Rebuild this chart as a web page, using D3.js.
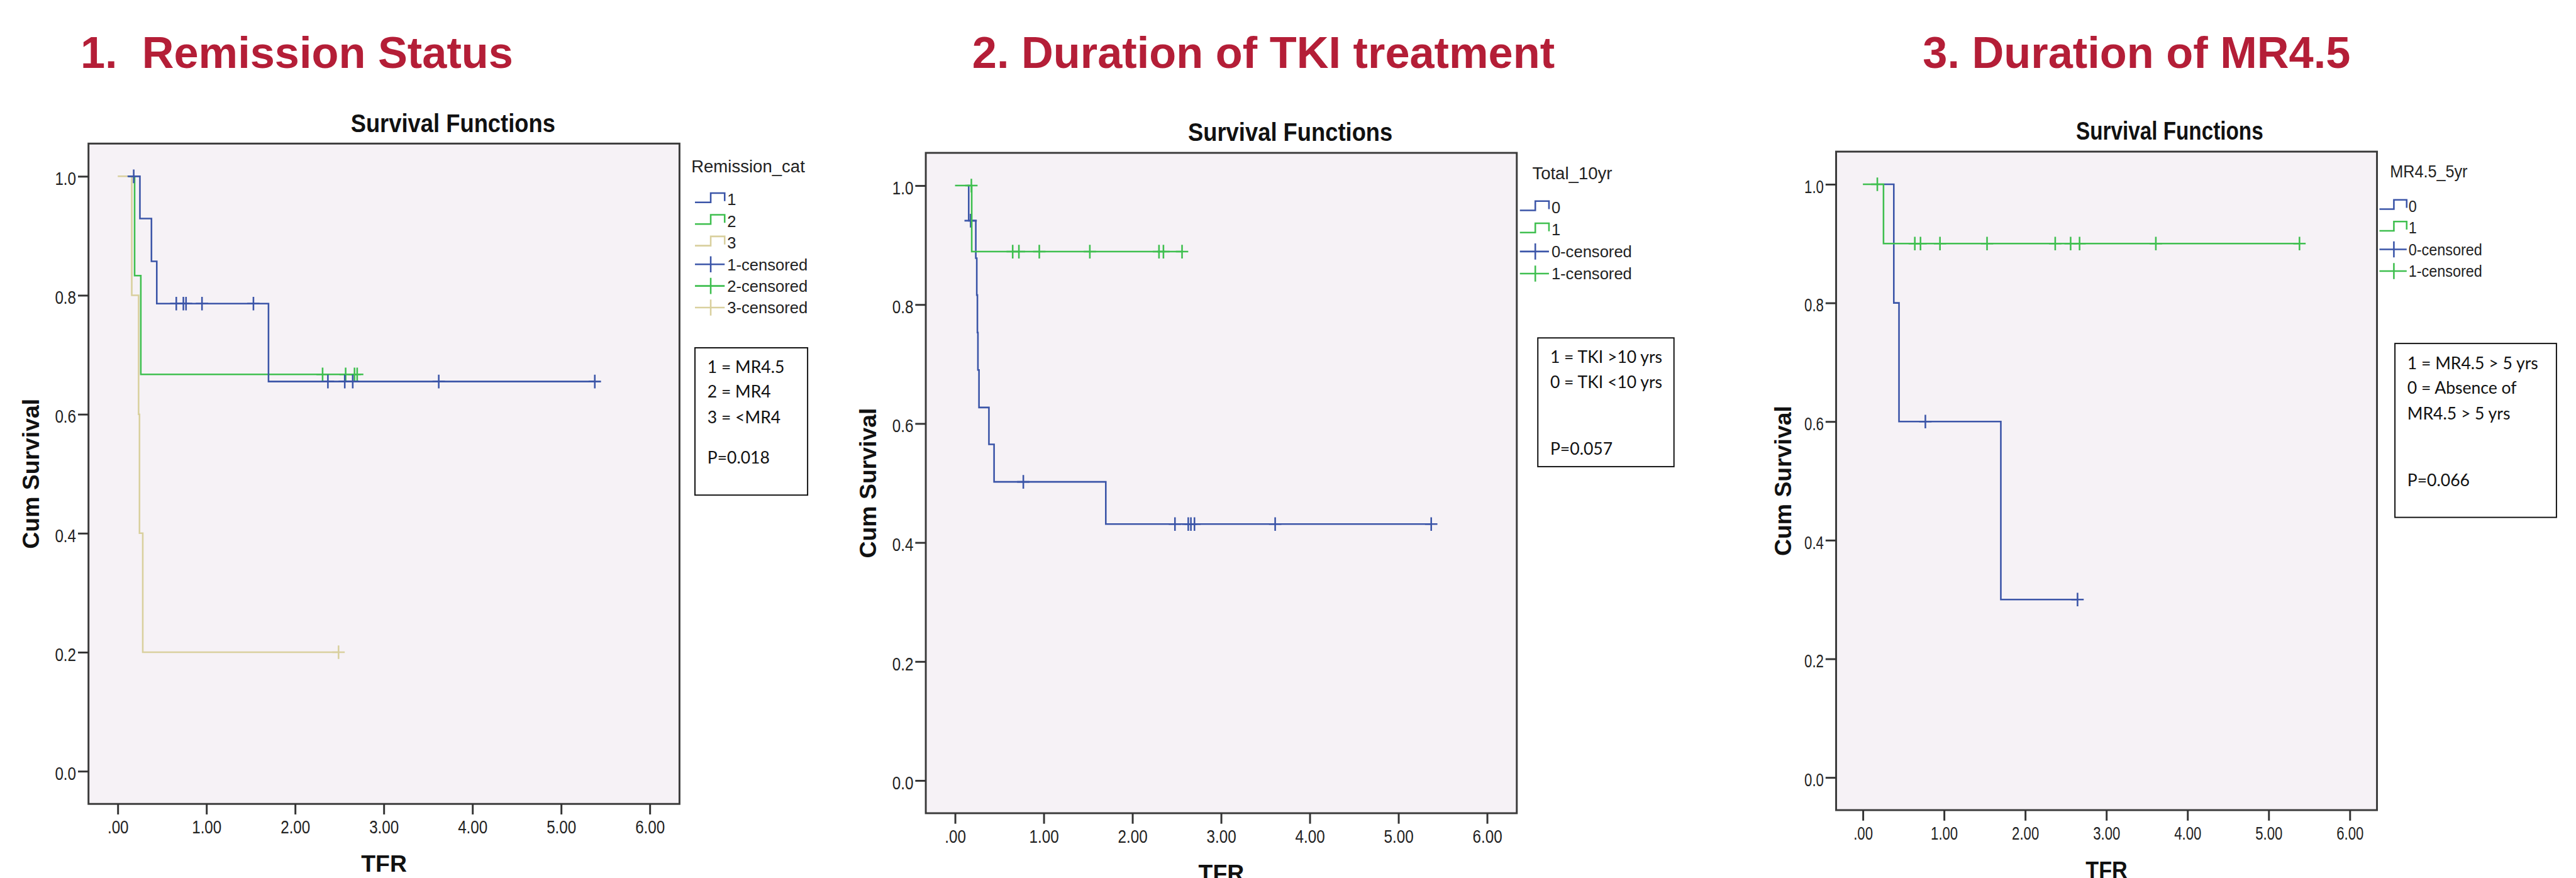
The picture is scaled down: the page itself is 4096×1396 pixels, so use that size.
<!DOCTYPE html>
<html lang="en">
<head>
<meta charset="utf-8" />
<title>TFR - Survival Functions</title>
<script src="https://cdnjs.cloudflare.com/ajax/libs/d3/7.8.5/d3.min.js"></script>
<style>
  body { margin: 0; background: #fff; }
  text { font-family: "Liberation Sans", Arial, sans-serif; }
  .title { font-weight: bold; font-size: 71.5px; fill: #b41e37; white-space: pre; }
  .subtitle { font-weight: bold; font-size: 42px; fill: #111; }
  .tick text { font-size: 30px; fill: #222; }
  .tick line { stroke: #333; stroke-width: 3; }
  .axis-label { font-weight: bold; font-size: 38px; fill: #111; }
  .legend text { font-size: 26px; fill: #222; }
  .legend text.head { font-size: 28px; }
  .note rect { fill: #fff; stroke: #111; stroke-width: 2; }
  .note text { font-family: Lato, "Open Sans", sans-serif; font-size: 27px; fill: #111; }
  .frame { fill: #f6f2f6; stroke: #3a3a3a; stroke-width: 3; }
  .km { fill: none; stroke-width: 2.6; }
  .cens { fill: none; stroke-width: 2.6; }
</style>
</head>
<body>
<div id="chart"></div>
<script>
  // ---- data ----
  const titles = ["1.  Remission Status", "2. Duration of TKI treatment", "3. Duration of MR4.5"];
  const subtitle = "Survival Functions";
  const xTitle = "TFR";
  const yTitle = "Cum Survival";
  const xTicks = [0, 1, 2, 3, 4, 5, 6];
  const xTickLabels = [".00", "1.00", "2.00", "3.00", "4.00", "5.00", "6.00"];
  const yTicks = [0, 0.2, 0.4, 0.6, 0.8, 1.0];
  const yTickLabels = ["0.0", "0.2", "0.4", "0.6", "0.8", "1.0"];

  // 1. Remission_cat
  const rem1Time = [0.12, 0.25, 0.38, 0.44, 1.70, 5.38];
  const rem1Surv = [1, 0.929, 0.857, 0.786, 0.655, 0.655];
  const rem1Cens = [0.18, 0.66, 0.74, 0.77, 0.95, 1.53, 2.37, 2.56, 2.65, 3.62, 5.38];
  const rem2Time = [0.12, 0.19, 0.26, 2.70];
  const rem2Surv = [1, 0.833, 0.667, 0.667];
  const rem2Cens = [2.31, 2.57, 2.67, 2.70];
  const rem3Time = [0.0, 0.158, 0.235, 0.245, 0.282, 2.49];
  const rem3Surv = [1, 0.8, 0.6, 0.4, 0.2, 0.2];
  const rem3Cens = [2.49];

  // 2. Total_10yr
  const tot0Time = [0.14, 0.154, 0.234, 0.245, 0.252, 0.258, 0.270, 0.382, 0.44, 1.70, 5.37];
  const tot0Surv = [1, 0.941, 0.878, 0.816, 0.753, 0.690, 0.627, 0.565, 0.502, 0.431, 0.431];
  const tot0Cens = [0.176, 0.77, 2.48, 2.63, 2.66, 2.70, 3.61, 5.37];
  const tot1Time = [0.0, 0.188, 2.56];
  const tot1Surv = [1, 0.889, 0.889];
  const tot1Cens = [0.184, 0.65, 0.72, 0.95, 1.52, 2.30, 2.35, 2.56];

  // 3. MR4.5_5yr
  const mr0Time = [0.254, 0.381, 0.445, 1.70, 2.645];
  const mr0Surv = [1, 0.8, 0.6, 0.3, 0.3];
  const mr0Cens = [0.77, 2.645];
  const mr1Time = [0.0, 0.254, 5.38];
  const mr1Surv = [1, 0.9, 0.9];
  const mr1Cens = [0.178, 0.64, 0.71, 0.95, 1.53, 2.37, 2.56, 2.67, 3.61, 5.38];

  const legendHeads = ["Remission_cat", "Total_10yr", "MR4.5_5yr"];
  const legend1Labels = ["1", "2", "3", "1-censored", "2-censored", "3-censored"];
  const legend2Labels = ["0", "1", "0-censored", "1-censored"];
  const legend3Labels = ["0", "1", "0-censored", "1-censored"];

  const note1Lines = ["1 = MR4.5", "2 = MR4", "3 = <MR4", "P=0.018"];
  const note2Lines = ["1 = TKI >10 yrs", "0 = TKI <10 yrs", "P=0.057"];
  const note3Lines = ["1 = MR4.5 > 5 yrs", "0 = Absence of", "MR4.5 > 5 yrs", "P=0.066"];

  // ---- look ----
  const blue = "#3b55a8", green = "#3fbf4f", tan = "#d9d09e";
  const xDomain = [-0.33, 6.335];
  const yDomain = [-0.055, 1.055];

  const panels = [
    { title: titles[0], titleX: 130, frame: [143, 232, 1098, 1299], sx: 1, yLabelOff: 80.5,
      series: [
        { time: rem3Time, surv: rem3Surv, cens: rem3Cens, color: tan },
        { time: rem2Time, surv: rem2Surv, cens: rem2Cens, color: green },
        { time: rem1Time, surv: rem1Surv, cens: rem1Cens, color: blue }],
      legend: { head: legendHeads[0], labels: legend1Labels,
        colors: [blue, green, tan, blue, green, tan], kinds: ["step", "step", "step", "cens", "cens", "cens"],
        headX: 1117, headY: 278, symX: 1123, symW: 48, textX: 1175, rowY: 322, rowStep: 35 },
      note: { box: [1123, 562, 1305, 800], textX: 1143, lines: note1Lines, lineY: [593, 633, 674, 740] } },
    { title: titles[1], titleX: 1571, frame: [1496, 247, 2451, 1314], sx: 1, yLabelOff: 80.5,
      series: [
        { time: tot0Time, surv: tot0Surv, cens: tot0Cens, color: blue },
        { time: tot1Time, surv: tot1Surv, cens: tot1Cens, color: green }],
      legend: { head: legendHeads[1], labels: legend2Labels,
        colors: [blue, green, blue, green], kinds: ["step", "step", "cens", "cens"],
        headX: 2476, headY: 290, symX: 2456, symW: 47, textX: 2507, rowY: 335, rowStep: 35.7 },
      note: { box: [2485, 546, 2705, 754], textX: 2505, lines: note2Lines, lineY: [577, 618, 725] } },
    { title: titles[2], titleX: 3107, frame: [2967, 245, 3841, 1309], sx: 0.915, yLabelOff: 72.5,
      series: [
        { time: mr0Time, surv: mr0Surv, cens: mr0Cens, color: blue },
        { time: mr1Time, surv: mr1Surv, cens: mr1Cens, color: green }],
      legend: { head: legendHeads[2], labels: legend3Labels,
        colors: [blue, green, blue, green], kinds: ["step", "step", "cens", "cens"],
        headX: 3862, headY: 287, symX: 3845, symW: 44, textX: 3892, rowY: 333, rowStep: 35 },
      note: { box: [3870, 555, 4131, 836], textX: 3890, lines: note3Lines, lineY: [587, 627, 668, 776] } }
  ];

  function survAt(s, t) {
    let v = s.surv[0];
    s.time.forEach((tt, i) => { if (tt <= t) v = s.surv[i]; });
    return v;
  }

  // shrink text horizontally, SPSS fonts are narrow
  function squeeze(sel, k) {
    sel.each(function () {
      const w = this.getComputedTextLength();
      this.setAttribute("textLength", w * k);
      this.setAttribute("lengthAdjust", "spacingAndGlyphs");
    });
  }

  const svg = d3.select("#chart").append("svg")
    .attr("width", 4096).attr("height", 1396);
  const root = svg.append("g").attr("transform", "scale(0.984)");

  panels.forEach(p => {
    const [x0, y0, x1, y1] = p.frame;
    const x = d3.scaleLinear().domain(xDomain).range([x0, x1]);
    const y = d3.scaleLinear().domain(yDomain).range([y1, y0]);
    const g = root.append("g");

    g.append("text").attr("class", "title")
      .attr("x", p.titleX).attr("y", 109.5).text(p.title);

    g.append("text").attr("class", "subtitle")
      .attr("x", x0 + 589 * p.sx).attr("y", y0 - 19)
      .attr("text-anchor", "middle").text(subtitle)
      .call(squeeze, 0.88 * p.sx);

    g.append("rect").attr("class", "frame")
      .attr("x", x0).attr("y", y0).attr("width", x1 - x0).attr("height", y1 - y0);

    const xa = g.append("g").attr("transform", `translate(0,${y1})`)
      .call(d3.axisBottom(x).tickValues(xTicks).tickFormat((d, i) => xTickLabels[i])
        .tickSize(17).tickPadding(9.7));
    xa.select(".domain").remove();
    xa.selectAll(".tick text").call(squeeze, 0.82 * p.sx);

    const ya = g.append("g").attr("transform", `translate(${x0},0)`)
      .call(d3.axisLeft(y).tickValues(yTicks).tickFormat((d, i) => yTickLabels[i])
        .tickSize(17).tickPadding(3));
    ya.select(".domain").remove();
    ya.selectAll(".tick text").attr("dy", "0.45em").call(squeeze, 0.82 * p.sx);

    g.append("text").attr("class", "axis-label")
      .attr("transform", `translate(${x0 - p.yLabelOff},${(y0 + y1) / 2}) rotate(-90)`)
      .attr("text-anchor", "middle").text(yTitle);

    g.append("text").attr("class", "axis-label")
      .attr("x", (x0 + x1) / 2).attr("y", y1 + 110)
      .attr("text-anchor", "middle").text(xTitle)
      .call(squeeze, p.sx);

    const line = d3.line().curve(d3.curveStepAfter)
      .x(d => x(d[0])).y(d => y(d[1]));

    p.series.forEach(s => {
      g.append("path").attr("class", "km")
        .attr("stroke", s.color)
        .attr("d", line(d3.zip(s.time, s.surv)));
      g.selectAll(null).data(s.cens).join("path")
        .attr("class", "cens").attr("stroke", s.color)
        .attr("d", t => {
          const cx = x(t), cy = y(survAt(s, t));
          return `M${cx - 10},${cy}H${cx + 10}M${cx},${cy - 11}V${cy + 11}`;
        });
    });

    // legend
    const L = p.legend;
    const lg = g.append("g").attr("class", "legend");
    lg.append("text").attr("class", "head")
      .attr("x", L.headX).attr("y", L.headY).text(L.head)
      .call(squeeze, p.sx);
    const rows = lg.selectAll(".row").data(L.labels).join("g")
      .attr("class", "row")
      .attr("transform", (d, i) => `translate(0,${L.rowY + i * L.rowStep})`);
    rows.append("path")
      .attr("fill", "none").attr("stroke-width", 2.6)
      .attr("stroke", (d, i) => L.colors[i])
      .attr("d", (d, i) => {
        const a = L.symX, b = L.symX + L.symW, m = L.symX + L.symW * 0.53;
        return L.kinds[i] === "step"
          ? `M${a},5H${m}V-10H${b}V3`
          : `M${a},0H${b}M${m},-13V13`;
      });
    rows.append("text")
      .attr("x", L.textX).attr("y", 9.5).text(d => d)
      .call(squeeze, p.sx);

    // note box
    const N = p.note;
    const ng = g.append("g").attr("class", "note");
    ng.append("rect")
      .attr("x", N.box[0]).attr("y", N.box[1])
      .attr("width", N.box[2] - N.box[0]).attr("height", N.box[3] - N.box[1]);
    ng.selectAll("text").data(N.lines).join("text")
      .attr("x", N.textX).attr("y", (d, i) => N.lineY[i])
      .attr("dy", "0.35em").text(d => d);
  });
</script>
</body>
</html>
